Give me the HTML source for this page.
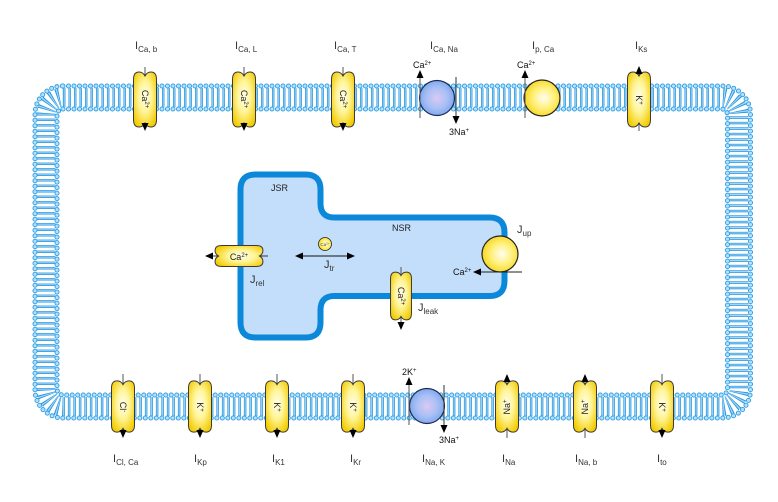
<!DOCTYPE html>
<html><head><meta charset="utf-8">
<style>
html,body{margin:0;padding:0;background:#fff;}
svg{display:block;}
text{font-family:"Liberation Sans",sans-serif;}
.lb{font-size:11px;fill:#333;}
.sm{font-size:9px;fill:#111;}
</style></head>
<body>
<svg width="778" height="502" viewBox="0 0 778 502" xmlns="http://www.w3.org/2000/svg">
<defs>
  <radialGradient id="gy" cx="0.5" cy="0.45" r="0.62">
    <stop offset="0" stop-color="#fffdeb"/>
    <stop offset="0.45" stop-color="#fff59a"/>
    <stop offset="1" stop-color="#f3cb00"/>
  </radialGradient>
  <radialGradient id="gc" cx="0.55" cy="0.5" r="0.6">
    <stop offset="0" stop-color="#fffef0"/>
    <stop offset="0.5" stop-color="#fff07a"/>
    <stop offset="1" stop-color="#f5d00a"/>
  </radialGradient>
  <radialGradient id="gb" cx="0.5" cy="0.5" r="0.6">
    <stop offset="0" stop-color="#dcc8f2"/>
    <stop offset="0.5" stop-color="#a8c0f6"/>
    <stop offset="1" stop-color="#6f9de8"/>
  </radialGradient>
  <path id="ch" d="M0,-23.5 Q-2,-27.5 -6,-27.5 Q-11.5,-27.5 -11.5,-20 L-11.5,20 Q-11.5,27.5 -6,27.5 Q-2,27.5 0,23.5 Q2,27.5 6,27.5 Q11.5,27.5 11.5,20 L11.5,-20 Q11.5,-27.5 6,-27.5 Q2,-27.5 0,-23.5 Z" fill="url(#gy)" stroke="#3a3a3a" stroke-width="1" vector-effect="non-scaling-stroke"/>
</defs>

<!-- Membrane -->
<rect x="46" y="97.5" width="693" height="309" rx="17" fill="none" stroke="#ffffff" stroke-width="19"/>
<rect x="46" y="97.5" width="693" height="309" rx="17" fill="none" stroke="#a6d6f6" stroke-width="19" stroke-dasharray="2.4 3.1"/>
<rect x="46" y="97.5" width="693" height="309" rx="17" fill="none" stroke="#2295e0" stroke-width="19" stroke-dasharray="0.7 1.0 0.7 3.1"/>
<rect x="35" y="86" width="715.5" height="332" rx="28" fill="none" stroke="#2a9be3" stroke-width="5" stroke-linecap="round" stroke-dasharray="0 5.5"/>
<rect x="35" y="86" width="715.5" height="332" rx="28" fill="none" stroke="#b3e0fb" stroke-width="3.2" stroke-linecap="round" stroke-dasharray="0 5.5"/>
<rect x="57" y="109" width="670.5" height="286" rx="6" fill="none" stroke="#2a9be3" stroke-width="5" stroke-linecap="round" stroke-dasharray="0 5.5"/>
<rect x="57" y="109" width="670.5" height="286" rx="6" fill="none" stroke="#b3e0fb" stroke-width="3.2" stroke-linecap="round" stroke-dasharray="0 5.5"/>

<!-- SR -->
<path d="M255.5 174.5 H305.5 Q320.5 174.5 320.5 189.5 V203.5 Q320.5 217.5 334.5 217.5 H489.5 Q504.5 217.5 504.5 232.5 V281 Q504.5 296 489.5 296 H334.5 Q320.5 296 320.5 310 V322.5 Q320.5 337.5 305.5 337.5 H255.5 Q240.5 337.5 240.5 322.5 V189.5 Q240.5 174.5 255.5 174.5 Z" fill="#c2defa" stroke="#0b88d9" stroke-width="6"/>

<!-- ===== Top row ===== -->
<g stroke="#555" stroke-width="1">
  <line x1="145" y1="67" x2="145" y2="124"/>
  <line x1="244" y1="67" x2="244" y2="124"/>
  <line x1="343" y1="67" x2="343" y2="124"/>
  <line x1="639" y1="131" x2="639" y2="73"/>
</g>
<use href="#ch" transform="translate(145,99.5)"/>
<use href="#ch" transform="translate(244,99.5)"/>
<use href="#ch" transform="translate(343,99.5)"/>
<use href="#ch" transform="translate(639,99.5)"/>
<g fill="#000">
  <polygon points="141.5,123 148.5,123 145,131"/>
  <polygon points="240.5,123 247.5,123 244,131"/>
  <polygon points="339.5,123 346.5,123 343,131"/>
  <polygon points="635.5,74 642.5,74 639,66"/>
</g>
<g class="sm" font-size="9">
  <g transform="translate(145,100) rotate(90)"><text x="-1" y="3" text-anchor="middle" font-size="9" fill="#222">Ca<tspan dy="-3" font-size="6">2+</tspan></text></g>
  <g transform="translate(244,100) rotate(90)"><text x="-1" y="3" text-anchor="middle" font-size="9" fill="#222">Ca<tspan dy="-3" font-size="6">2+</tspan></text></g>
  <g transform="translate(343,100) rotate(90)"><text x="-1" y="3" text-anchor="middle" font-size="9" fill="#222">Ca<tspan dy="-3" font-size="6">2+</tspan></text></g>
  <g transform="translate(639,100) rotate(90)"><text x="0" y="3" text-anchor="middle" font-size="9" fill="#222">K<tspan dy="-3" font-size="6">+</tspan></text></g>
</g>

<!-- NCX -->
<circle cx="437" cy="98" r="17.5" fill="url(#gb)" stroke="#1b2a55" stroke-width="1.2"/>
<line x1="420" y1="118" x2="420" y2="77" stroke="#555" stroke-width="1"/>
<polygon points="416.5,78 423.5,78 420,70" fill="#000"/>
<line x1="456" y1="77" x2="456" y2="117" stroke="#333" stroke-width="1"/>
<polygon points="452.5,116 459.5,116 456,124" fill="#000"/>
<text x="413" y="68" font-size="9" fill="#111">Ca<tspan dy="-3" font-size="6">2+</tspan></text>
<text x="449" y="135" font-size="9" fill="#111">3Na<tspan dy="-3" font-size="6">+</tspan></text>

<!-- pCa -->
<circle cx="542" cy="98" r="18" fill="url(#gc)" stroke="#222" stroke-width="1.2"/>
<line x1="525" y1="118" x2="525" y2="77" stroke="#555" stroke-width="1"/>
<polygon points="521.5,78 528.5,78 525,70" fill="#000"/>
<text x="517" y="68" font-size="9" fill="#111">Ca<tspan dy="-3" font-size="6">2+</tspan></text>

<!-- Top labels -->
<text x="135" y="49" class="lb">I<tspan dy="3" font-size="8">Ca, b</tspan></text>
<text x="235" y="49" class="lb">I<tspan dy="3" font-size="8">Ca, L</tspan></text>
<text x="334" y="49" class="lb">I<tspan dy="3" font-size="8">Ca, T</tspan></text>
<text x="430" y="49" class="lb">I<tspan dy="3" font-size="8">Ca, Na</tspan></text>
<text x="532" y="49" class="lb">I<tspan dy="3" font-size="8">p, Ca</tspan></text>
<text x="635" y="49" class="lb">I<tspan dy="3" font-size="8">Ks</tspan></text>

<!-- ===== Bottom row ===== -->
<g stroke="#555" stroke-width="1">
  <line x1="123" y1="374" x2="123" y2="431"/>
  <line x1="200" y1="374" x2="200" y2="431"/>
  <line x1="277" y1="374" x2="277" y2="431"/>
  <line x1="353" y1="374" x2="353" y2="431"/>
  <line x1="662" y1="374" x2="662" y2="431"/>
  <line x1="507" y1="438" x2="507" y2="381"/>
  <line x1="585" y1="438" x2="585" y2="381"/>
</g>
<use href="#ch" transform="translate(123,406.5) scale(1,0.93)"/>
<use href="#ch" transform="translate(200,406.5) scale(1,0.93)"/>
<use href="#ch" transform="translate(277,406.5) scale(1,0.93)"/>
<use href="#ch" transform="translate(353,406.5) scale(1,0.93)"/>
<use href="#ch" transform="translate(507,406.5) scale(1,0.93)"/>
<use href="#ch" transform="translate(585,406.5) scale(1,0.93)"/>
<use href="#ch" transform="translate(662,406.5) scale(1,0.93)"/>
<g fill="#000">
  <polygon points="119.5,430 126.5,430 123,438"/>
  <polygon points="196.5,430 203.5,430 200,438"/>
  <polygon points="273.5,430 280.5,430 277,438"/>
  <polygon points="349.5,430 356.5,430 353,438"/>
  <polygon points="658.5,430 665.5,430 662,438"/>
  <polygon points="503.5,382 510.5,382 507,374"/>
  <polygon points="581.5,382 588.5,382 585,374"/>
</g>
<g transform="translate(123,407) rotate(90)"><text x="0" y="3" text-anchor="middle" font-size="9" fill="#222">Cl<tspan dy="-3" font-size="6">-</tspan></text></g>
<g transform="translate(200,407) rotate(90)"><text x="0" y="3" text-anchor="middle" font-size="9" fill="#222">K<tspan dy="-3" font-size="6">+</tspan></text></g>
<g transform="translate(277,407) rotate(90)"><text x="0" y="3" text-anchor="middle" font-size="9" fill="#222">K<tspan dy="-3" font-size="6">+</tspan></text></g>
<g transform="translate(353,407) rotate(90)"><text x="0" y="3" text-anchor="middle" font-size="9" fill="#222">K<tspan dy="-3" font-size="6">+</tspan></text></g>
<g transform="translate(507,407) rotate(-90)"><text x="0" y="3" text-anchor="middle" font-size="9" fill="#222">Na<tspan dy="-3" font-size="6">+</tspan></text></g>
<g transform="translate(585,407) rotate(-90)"><text x="0" y="3" text-anchor="middle" font-size="9" fill="#222">Na<tspan dy="-3" font-size="6">+</tspan></text></g>
<g transform="translate(662,407) rotate(90)"><text x="0" y="3" text-anchor="middle" font-size="9" fill="#222">K<tspan dy="-3" font-size="6">+</tspan></text></g>

<!-- NaK -->
<circle cx="427" cy="406" r="17.5" fill="url(#gb)" stroke="#1b2a55" stroke-width="1.2"/>
<line x1="409" y1="425" x2="409" y2="384" stroke="#555" stroke-width="1"/>
<polygon points="405.5,385 412.5,385 409,377" fill="#000"/>
<line x1="444" y1="385" x2="444" y2="426" stroke="#333" stroke-width="1"/>
<polygon points="440.5,425 447.5,425 444,433" fill="#000"/>
<text x="402" y="375" font-size="9" fill="#111">2K<tspan dy="-3" font-size="6">+</tspan></text>
<text x="439" y="443" font-size="9" fill="#111">3Na<tspan dy="-3" font-size="6">+</tspan></text>

<!-- Bottom labels -->
<text x="113" y="462" class="lb">I<tspan dy="3" font-size="8">Cl, Ca</tspan></text>
<text x="194" y="462" class="lb">I<tspan dy="3" font-size="8">Kp</tspan></text>
<text x="272" y="462" class="lb">I<tspan dy="3" font-size="8">K1</tspan></text>
<text x="350" y="462" class="lb">I<tspan dy="3" font-size="8">Kr</tspan></text>
<text x="422" y="462" class="lb">I<tspan dy="3" font-size="8">Na, K</tspan></text>
<text x="502" y="462" class="lb">I<tspan dy="3" font-size="8">Na</tspan></text>
<text x="575" y="462" class="lb">I<tspan dy="3" font-size="8">Na, b</tspan></text>
<text x="657" y="462" class="lb">I<tspan dy="3" font-size="8">to</tspan></text>

<!-- ===== SR contents ===== -->
<text x="271" y="191" font-size="9" fill="#222">JSR</text>
<text x="392" y="231" font-size="9" fill="#222">NSR</text>

<!-- RyR -->
<line x1="268" y1="256" x2="212" y2="256" stroke="#333" stroke-width="1"/>
<use href="#ch" transform="translate(239,256) rotate(90) scale(0.91,0.87)"/>
<polygon points="213,252.5 213,259.5 205,256" fill="#000"/>
<text x="239" y="260" text-anchor="middle" font-size="9" fill="#222">Ca<tspan dy="-3" font-size="6">2+</tspan></text>
<text x="250" y="283" class="lb">J<tspan dy="3" font-size="8">rel</tspan></text>

<!-- Jtr -->
<circle cx="325" cy="244" r="6.5" fill="url(#gc)" stroke="#222" stroke-width="0.8"/>
<text x="325" y="246" text-anchor="middle" font-size="4.5" fill="#444">Ca<tspan dy="-1.5" font-size="3">2+</tspan></text>
<line x1="302" y1="256" x2="348" y2="256" stroke="#111" stroke-width="1"/>
<polygon points="303,252.5 303,259.5 295,256" fill="#000"/>
<polygon points="347,252.5 347,259.5 355,256" fill="#000"/>
<text x="324" y="268" class="lb">J<tspan dy="3" font-size="8">tr</tspan></text>

<!-- Leak -->
<line x1="401" y1="267" x2="401" y2="323" stroke="#555" stroke-width="1"/>
<use href="#ch" transform="translate(401,296) scale(0.91,0.87)"/>
<polygon points="397.5,322 404.5,322 401,330" fill="#000"/>
<g transform="translate(401,296) rotate(90)"><text x="0" y="3" text-anchor="middle" font-size="9" fill="#222">Ca<tspan dy="-3" font-size="6">2+</tspan></text></g>
<text x="418" y="311" class="lb">J<tspan dy="3" font-size="8">leak</tspan></text>

<!-- SERCA -->
<circle cx="500" cy="254" r="18" fill="url(#gc)" stroke="#222" stroke-width="1.2"/>
<line x1="522" y1="272" x2="480" y2="272" stroke="#222" stroke-width="1"/>
<polygon points="481,268.5 481,275.5 473,272" fill="#000"/>
<text x="453" y="275" font-size="9" fill="#111">Ca<tspan dy="-3" font-size="6">2+</tspan></text>
<text x="517" y="233" class="lb">J<tspan dy="3" font-size="8">up</tspan></text>
</svg>
</body></html>
